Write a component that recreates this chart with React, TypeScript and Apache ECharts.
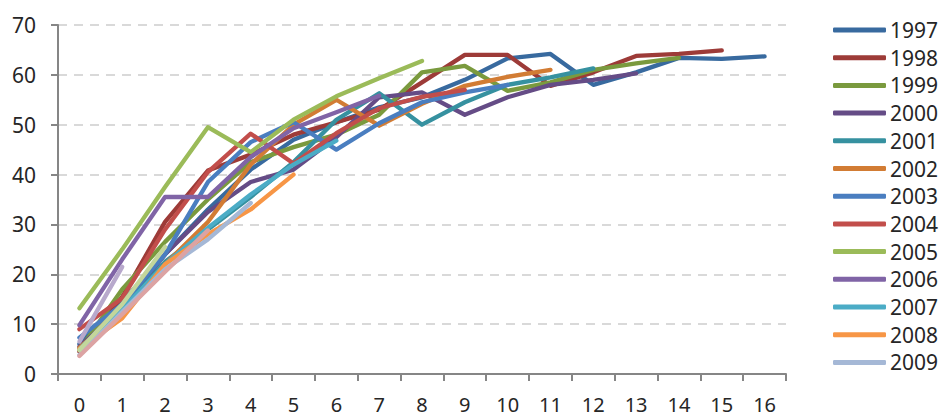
import React, { useEffect, useRef } from "react";
import * as echarts from "echarts";

const categories = ["0","1","2","3","4","5","6","7","8","9","10","11","12","13","14","15","16"];

const s1997 = [6.0, 14.5, 24, 33, 41, 47, 50.5, 53.5, 55.5, 59, 63.3, 64.2, 58, 60.5, 63.4, 63.2, 63.7];
const s1998 = [4.5, 15.5, 30.5, 40.8, 44, 48, 50.5, 53, 58.5, 64, 64, 57.8, 60.5, 63.8, 64.2, 64.9];
const s1999 = [4.8, 17, 26.5, 35, 42.5, 45.5, 48, 52, 60.5, 61.8, 56.8, 58.5, 61, 62.3, 63.4];
const s2000 = [5.5, 13, 24, 32.5, 38.5, 41, 47.5, 55.5, 56.5, 52, 55.5, 58, 59, 60.3];
const s2001 = [5, 13, 22.5, 29, 35.5, 42.5, 51, 56.3, 50, 54.5, 58, 59.5, 61.3];
const s2002 = [5.3, 12.5, 22, 30.5, 42, 50, 55, 49.8, 54.2, 57.8, 59.6, 61];
const s2003 = [7.3, 14, 24, 38.5, 46.5, 50.5, 45, 50.3, 54.5, 56.5, 58];
const s2004 = [9, 15.2, 29, 40.5, 48.2, 42.2, 48.3, 53.3, 55.6, 57];
const s2005 = [13.2, 25, 37.5, 49.5, 44.5, 51, 55.7, 59.3, 62.8];
const s2006 = [9.8, 23, 35.5, 35.5, 43.5, 49.3, 52.5, 55.8];
const s2007 = [5, 13, 22, 29.3, 36, 42, 46.8];
const s2008 = [5, 11.2, 22, 28, 33, 40];
const s2009 = [3.8, 12.5, 21, 27, 34.3];
const s2010 = [3.6, 12, 20.5, 28.8];
const s2011 = [4.8, 14, 25.5];
const s2012 = [6.5, 21.5];

const legendNames = ["1997","1998","1999","2000","2001","2002","2003","2004","2005","2006","2007","2008","2009"];

const seriesDefs: [string, number[], string][] = [
  ["1997", s1997, "#386A9F"],
  ["1998", s1998, "#9D3B38"],
  ["1999", s1999, "#7A9A3E"],
  ["2000", s2000, "#654C86"],
  ["2001", s2001, "#3691A0"],
  ["2002", s2002, "#D27C34"],
  ["2003", s2003, "#4A7EC0"],
  ["2004", s2004, "#C24E4B"],
  ["2005", s2005, "#9BBB59"],
  ["2006", s2006, "#8064A6"],
  ["2007", s2007, "#4BACC6"],
  ["2008", s2008, "#F79646"],
  ["2009", s2009, "#A5B8D6"],
  ["2010", s2010, "#DCA3A3"],
  ["2011", s2011, "#C3D69B"],
  ["2012", s2012, "#B8A9CC"],
];

const FONT = "Noto Sans";

export default function App() {
  const ref = useRef<HTMLDivElement>(null);
  useEffect(() => {
    if (!ref.current) return;
    const chart = echarts.init(ref.current, undefined, { renderer: "svg" });
    chart.setOption({
      animation: false,
      backgroundColor: "#ffffff",
      grid: { left: 58, right: 153, top: 25, bottom: 42, containLabel: false },
      legend: {
        data: legendNames,
        orient: "vertical",
        left: 828,
        top: 14,
        icon: "roundRect",
        itemWidth: 53,
        itemHeight: 5,
        itemGap: 5.7,
        textStyle: { fontFamily: FONT, fontSize: 21, color: "#262626", lineHeight: 22, padding: [0, 0, 0, -1] },
      },
      xAxis: {
        type: "category",
        data: categories,
        boundaryGap: true,
        axisLine: { lineStyle: { color: "#868686", width: 2 } },
        axisTick: { show: true, length: 7, lineStyle: { color: "#868686", width: 2 } },
        axisLabel: { fontFamily: FONT, fontSize: 20, color: "#262626", margin: 20, lineHeight: 20 },
        splitLine: { show: false },
      },
      yAxis: {
        type: "value",
        min: 0,
        max: 70,
        interval: 10,
        axisLine: { show: true, lineStyle: { color: "#868686", width: 2 } },
        axisTick: { show: true, length: 7, lineStyle: { color: "#868686", width: 2 } },
        axisLabel: { fontFamily: FONT, fontSize: 21, color: "#262626", margin: 22 },
        splitLine: { show: true, lineStyle: { color: "#D9D9D9", width: 2, type: [9, 7] } },
      },
      series: seriesDefs.map(([name, data, color]) => ({
        name,
        type: "line",
        data,
        symbol: "none",
        color,
        lineStyle: { width: 4.3, color, cap: "round", join: "round" },
        itemStyle: { color },
        emphasis: { disabled: true },
      })),
    });
    return () => chart.dispose();
  }, []);
  return (
    <div
      ref={ref}
      style={{ position: "fixed", left: 0, top: 0, width: 939, height: 416, background: "#fff" }}
    />
  );
}
